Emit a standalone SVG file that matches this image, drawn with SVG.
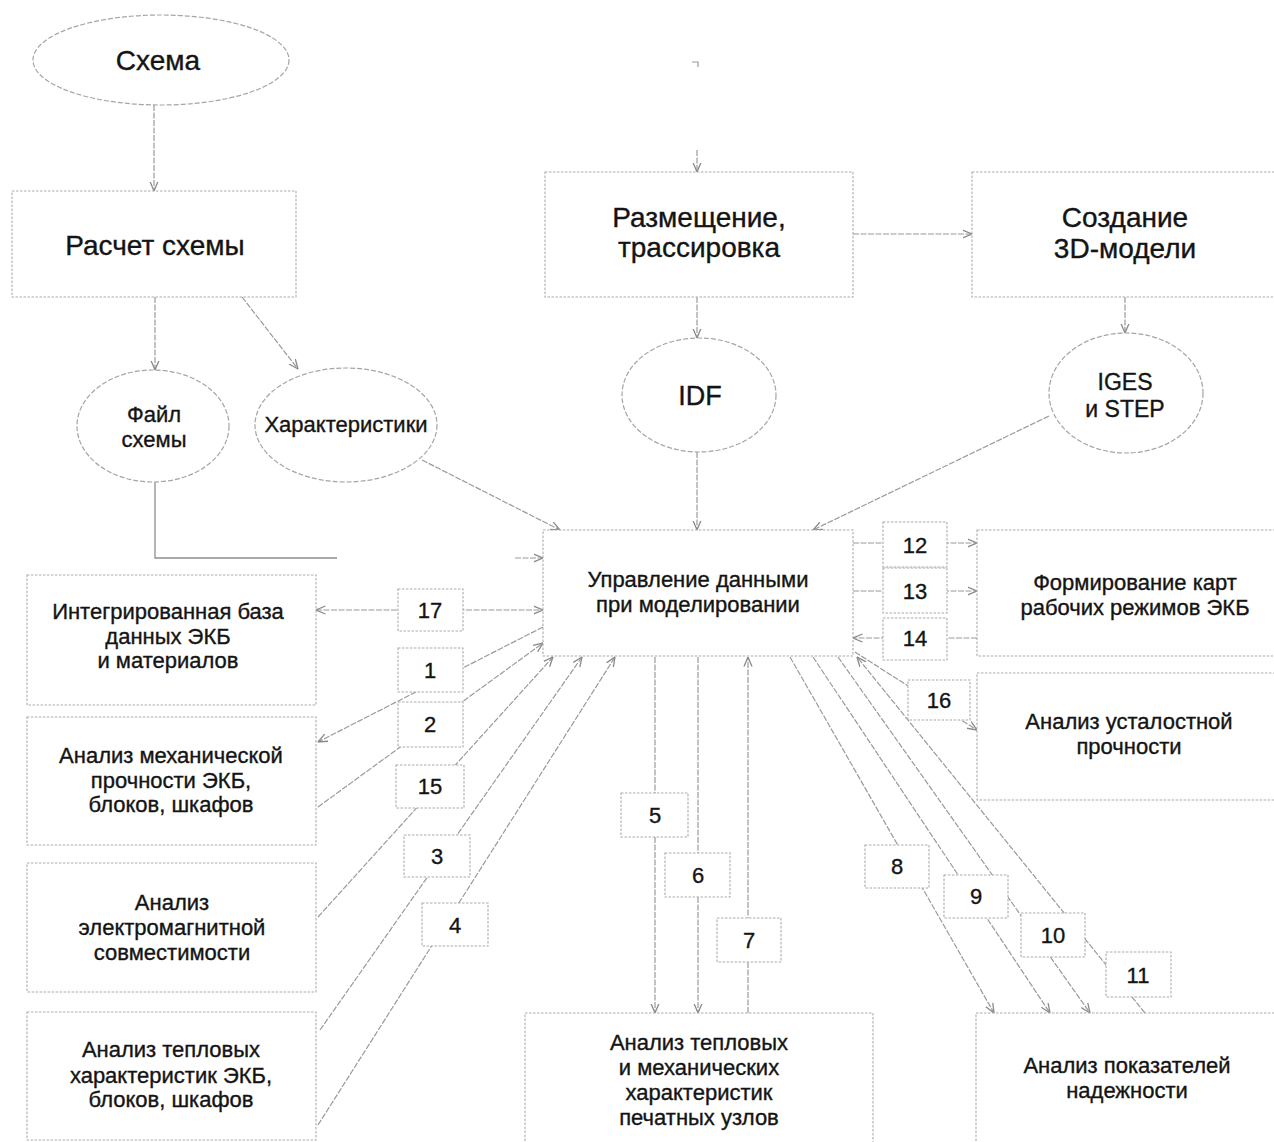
<svg xmlns="http://www.w3.org/2000/svg" width="1274" height="1142" viewBox="0 0 1274 1142">
<defs>
<style>
.c{fill:none;stroke:#9a9a9a;stroke-width:1.2;stroke-dasharray:6 1.5}
.b{fill:#fff;stroke:#ababab;stroke-width:1.1;stroke-dasharray:2.5 1.5}
.e{fill:#fff;stroke:#a5a5a5;stroke-width:1.2;stroke-dasharray:5 2}
.t{font-family:"Liberation Sans",Arial,sans-serif;font-size:22px;fill:#141414;stroke:#141414;stroke-width:0.35;text-anchor:middle}
.L{font-size:28px}
.n{font-size:22px}
</style>
<marker id="ah" viewBox="0 0 10 10" refX="9.5" refY="5" markerWidth="10" markerHeight="10" orient="auto-start-reverse" markerUnits="userSpaceOnUse">
<path d="M0,1 L9.5,5 L0,9" fill="none" stroke="#8a8a8a" stroke-width="1.3"/>
</marker>
</defs>
<rect width="1274" height="1142" fill="#fff"/>

<g id="connectors">
<line class="c" x1="154" y1="105" x2="154" y2="191" marker-end="url(#ah)"/>
<line class="c" x1="155" y1="297" x2="155" y2="370" marker-end="url(#ah)"/>
<line class="c" x1="242" y1="297" x2="298" y2="369" marker-end="url(#ah)"/>
<line class="c" x1="853" y1="234" x2="972" y2="234" marker-end="url(#ah)"/>
<path d="M692,62 H698 V67" fill="none" stroke="#9a9a9a" stroke-width="1.2"/>
<line class="c" x1="697" y1="150" x2="697" y2="172" marker-end="url(#ah)"/>
<line class="c" x1="697" y1="297" x2="697" y2="338" marker-end="url(#ah)"/>
<line class="c" x1="1125" y1="297" x2="1125" y2="333" marker-end="url(#ah)"/>
<line class="c" x1="697" y1="452" x2="697" y2="530" marker-end="url(#ah)"/>
<line class="c" x1="1049" y1="416" x2="813" y2="530" marker-end="url(#ah)"/>
<line class="c" x1="422" y1="460" x2="560" y2="530" marker-end="url(#ah)"/>
<path d="M155,482 V558 H337" fill="none" stroke="#8f8f8f" stroke-width="1.3"/>
<line class="c" x1="515" y1="558" x2="543" y2="558" marker-end="url(#ah)"/>
<line class="c" x1="316" y1="610" x2="543" y2="610" marker-start="url(#ah)" marker-end="url(#ah)"/>
<line class="c" x1="543" y1="627" x2="318" y2="742" marker-end="url(#ah)"/>
<line class="c" x1="318" y1="807" x2="543" y2="643" marker-end="url(#ah)"/>
<line class="c" x1="318" y1="917" x2="553" y2="657" marker-end="url(#ah)"/>
<line class="c" x1="320" y1="1030" x2="582" y2="657" marker-end="url(#ah)"/>
<line class="c" x1="318" y1="1125" x2="615" y2="657" marker-end="url(#ah)"/>
<line class="c" x1="853" y1="543" x2="977" y2="543" marker-end="url(#ah)"/>
<line class="c" x1="853" y1="591" x2="977" y2="591" marker-end="url(#ah)"/>
<line class="c" x1="977" y1="638" x2="853" y2="638" marker-end="url(#ah)"/>
<line class="c" x1="855" y1="652" x2="977" y2="730" marker-end="url(#ah)"/>
<line class="c" x1="655" y1="657" x2="655" y2="1013" marker-end="url(#ah)"/>
<line class="c" x1="698" y1="657" x2="698" y2="1013" marker-end="url(#ah)"/>
<line class="c" x1="748" y1="1013" x2="748" y2="657" marker-end="url(#ah)"/>
<line class="c" x1="790" y1="657" x2="994" y2="1013" marker-end="url(#ah)"/>
<line class="c" x1="813" y1="657" x2="1050" y2="1013" marker-end="url(#ah)"/>
<line class="c" x1="838" y1="657" x2="1090" y2="1013" marker-end="url(#ah)"/>
<line class="c" x1="1145" y1="1013" x2="857" y2="657" marker-end="url(#ah)"/>
</g>

<g id="n-shema"><ellipse class="e" cx="161" cy="60" rx="128" ry="45"/><text class="t L" x="158" y="70">Схема</text></g>
<g id="n-raschet"><rect class="b" x="12" y="191" width="284" height="106"/><text class="t L" x="155" y="255">Расчет схемы</text></g>
<g id="n-razm"><rect class="b" x="545" y="172" width="308" height="125"/><text class="t L" x="699" y="227">Размещение,</text><text class="t L" x="699" y="257">трассировка</text></g>
<g id="n-3d"><rect class="b" x="972" y="172" width="320" height="125"/><text class="t L" x="1125" y="227">Создание</text><text class="t L" x="1125" y="258">3D-модели</text></g>
<g id="n-fail"><ellipse class="e" cx="153" cy="426" rx="76" ry="56"/><text class="t" x="154" y="422">Файл</text><text class="t" x="154" y="447">схемы</text></g>
<g id="n-har"><ellipse class="e" cx="346" cy="425" rx="91" ry="57"/><text class="t" x="346" y="432">Характеристики</text></g>
<g id="n-idf"><ellipse class="e" cx="699" cy="395" rx="77" ry="57"/><text class="t" style="font-size:27px" x="700" y="405">IDF</text></g>
<g id="n-iges"><ellipse class="e" cx="1126" cy="393" rx="77" ry="60"/><text class="t" style="font-size:23px" x="1125" y="390">IGES</text><text class="t" style="font-size:23px" x="1125" y="417">и STEP</text></g>
<g id="n-upr"><rect class="b" x="543" y="530" width="310" height="126"/><text class="t" x="698" y="587">Управление данными</text><text class="t" x="698" y="612">при моделировании</text></g>
<g id="n-form"><rect class="b" x="977" y="530" width="315" height="126"/><text class="t" x="1135" y="590">Формирование карт</text><text class="t" x="1135" y="615">рабочих режимов ЭКБ</text></g>
<g id="n-ust"><rect class="b" x="977" y="673" width="315" height="127"/><text class="t" x="1129" y="729">Анализ усталостной</text><text class="t" x="1129" y="754">прочности</text></g>
<g id="n-baza"><rect class="b" x="27" y="575" width="289" height="130"/><text class="t" x="168" y="619">Интегрированная база</text><text class="t" x="168" y="644">данных ЭКБ</text><text class="t" x="168" y="668">и материалов</text></g>
<g id="n-meh"><rect class="b" x="27" y="717" width="289" height="128"/><text class="t" x="171" y="763">Анализ механической</text><text class="t" x="171" y="788">прочности ЭКБ,</text><text class="t" x="171" y="812">блоков, шкафов</text></g>
<g id="n-ems"><rect class="b" x="27" y="863" width="289" height="129"/><text class="t" x="172" y="910">Анализ</text><text class="t" x="172" y="935">электромагнитной</text><text class="t" x="172" y="960">совместимости</text></g>
<g id="n-tepl"><rect class="b" x="27" y="1012" width="289" height="128"/><text class="t" x="171" y="1057">Анализ тепловых</text><text class="t" x="171" y="1083">характеристик ЭКБ,</text><text class="t" x="171" y="1107">блоков, шкафов</text></g>
<g id="n-pech"><rect class="b" x="525" y="1013" width="348" height="140"/><text class="t" x="699" y="1050">Анализ тепловых</text><text class="t" x="699" y="1075">и механических</text><text class="t" x="699" y="1100">характеристик</text><text class="t" x="699" y="1125">печатных узлов</text></g>
<g id="n-nad"><rect class="b" x="976" y="1013" width="316" height="140"/><text class="t" x="1127" y="1073">Анализ показателей</text><text class="t" x="1127" y="1098">надежности</text></g>

<g id="n17"><rect class="b" x="398" y="589" width="65" height="42"/><text class="t n" x="430" y="618">17</text></g>
<g id="n1"><rect class="b" x="398" y="648" width="65" height="44"/><text class="t n" x="430" y="678">1</text></g>
<g id="n2"><rect class="b" x="398" y="702" width="65" height="45"/><text class="t n" x="430" y="732">2</text></g>
<g id="n15"><rect class="b" x="396" y="765" width="68" height="43"/><text class="t n" x="430" y="794">15</text></g>
<g id="n3"><rect class="b" x="404" y="835" width="66" height="42"/><text class="t n" x="437" y="864">3</text></g>
<g id="n4"><rect class="b" x="422" y="903" width="66" height="43"/><text class="t n" x="455" y="933">4</text></g>
<g id="n5"><rect class="b" x="621" y="793" width="67" height="44"/><text class="t n" x="655" y="823">5</text></g>
<g id="n6"><rect class="b" x="665" y="853" width="65" height="44"/><text class="t n" x="698" y="883">6</text></g>
<g id="n7"><rect class="b" x="717" y="918" width="64" height="44"/><text class="t n" x="749" y="948">7</text></g>
<g id="n8"><rect class="b" x="865" y="845" width="64" height="43"/><text class="t n" x="897" y="874">8</text></g>
<g id="n9"><rect class="b" x="944" y="875" width="64" height="43"/><text class="t n" x="976" y="904">9</text></g>
<g id="n10"><rect class="b" x="1021" y="913" width="64" height="44"/><text class="t n" x="1053" y="943">10</text></g>
<g id="n11"><rect class="b" x="1106" y="952" width="65" height="45"/><text class="t n" x="1138" y="983">11</text></g>
<g id="n12"><rect class="b" x="883" y="522" width="64" height="45"/><text class="t n" x="915" y="553">12</text></g>
<g id="n13"><rect class="b" x="883" y="568" width="64" height="45"/><text class="t n" x="915" y="599">13</text></g>
<g id="n14"><rect class="b" x="883" y="618" width="64" height="42"/><text class="t n" x="915" y="646">14</text></g>
<g id="n16"><rect class="b" x="908" y="680" width="62" height="40"/><text class="t n" x="939" y="708">16</text></g>
</svg>
